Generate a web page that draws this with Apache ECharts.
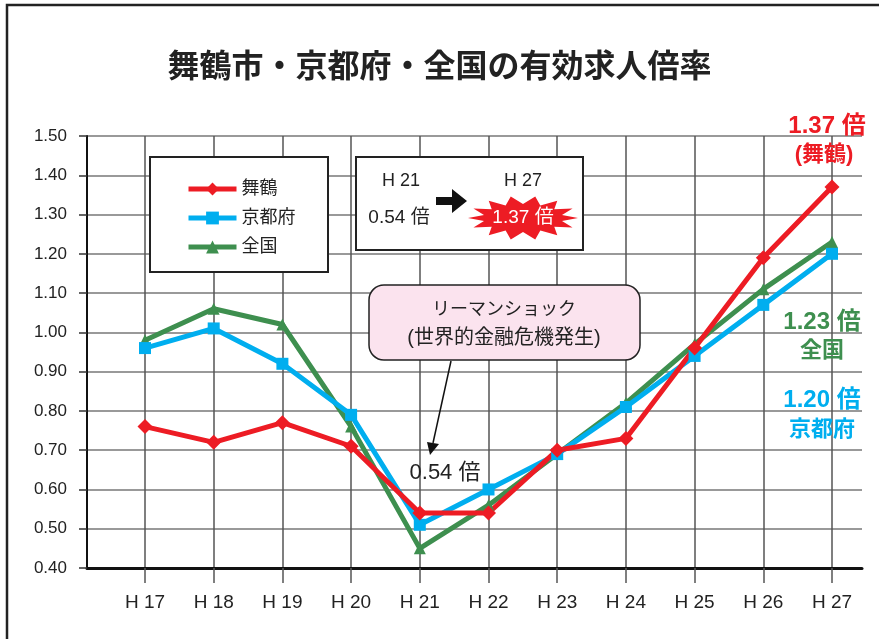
<!DOCTYPE html>
<html>
<head>
<meta charset="utf-8">
<script src="https://cdn.jsdelivr.net/npm/echarts@6/dist/echarts.min.js"></script>
<style>
  html, body { margin: 0; padding: 0; background: #fff; }
  #chart { width: 879px; height: 639px; }
</style>
</head>
<body>
<div id="chart"></div>
<script>
// 年度 (H17 - H27)
const years = ['H 17', 'H 18', 'H 19', 'H 20', 'H 21', 'H 22', 'H 23', 'H 24', 'H 25', 'H 26', 'H 27'];
const maizuru = [0.76, 0.72, 0.77, 0.71, 0.54, 0.54, 0.70, 0.73, 0.96, 1.19, 1.37];
const kyoto = [0.96, 1.01, 0.92, 0.79, 0.51, 0.60, 0.69, 0.81, 0.94, 1.07, 1.20];
const zenkoku = [0.98, 1.06, 1.02, 0.76, 0.45, 0.56, 0.69, 0.82, 0.97, 1.11, 1.23];
const yMin = 0.4, yMax = 1.5, yStep = 0.1;

const RED = '#ed1c24', BLUE = '#00aeef', GREEN = '#3e8f4f';
const FONT = '"Liberation Sans", "Noto Sans CJK JP", sans-serif';

function starPoints(cx, cy, rx1, ry1, rx2, ry2, n) {
  // 星形(ギザギザ)の頂点
  const pts = [];
  for (let i = 0; i < n * 2; i++) {
    const a = Math.PI * i / n;
    const outer = i % 2 === 0;
    pts.push([cx + Math.cos(a) * (outer ? rx1 : rx2), cy + Math.sin(a) * (outer ? ry1 : ry2)]);
  }
  return pts;
}

function txt(text, x, y, size, color, extra) {
  return {
    type: 'text', z: 20,
    style: Object.assign({
      text: text, x: x, y: y, fill: color || '#222',
      fontSize: size, fontFamily: FONT,
      textAlign: 'center', textVerticalAlign: 'middle'
    }, extra || {})
  };
}

function lineSeries(name, data, color, symbol, size) {
  return {
    name: name, type: 'line', xAxisIndex: 1, yAxisIndex: 1,
    data: data, symbol: symbol, symbolSize: size,
    color: color,
    lineStyle: { width: 5, color: color, join: 'round' },
    itemStyle: { color: color },
    emphasis: { disabled: true }
  };
}

const chart = echarts.init(document.getElementById('chart'));
chart.setOption({
  animation: false,
  title: {
    text: '舞鶴市・京都府・全国の有効求人倍率',
    left: 'center', top: 47,
    textStyle: { fontSize: 32, fontWeight: 'bold', color: '#222', fontFamily: FONT }
  },
  legend: {
    data: ['舞鶴', '京都府', '全国'],
    orient: 'vertical',
    left: 181, top: 175,
    itemWidth: 48, itemHeight: 16, itemGap: 11,
    lineStyle: { width: 5 },
    textStyle: { fontSize: 18, lineHeight: 18, color: '#222', fontFamily: FONT },
    z: 10
  },
  grid: [
    { left: 87, right: 17, top: 136, bottom: 71 },
    { left: 145, right: 47, top: 136, bottom: 71 }
  ],
  xAxis: [
    {
      gridIndex: 0, type: 'value', min: 0, max: 1,
      axisLabel: { show: false }, axisTick: { show: false }, splitLine: { show: false },
      axisLine: { show: true, lineStyle: { color: '#111', width: 3 } }
    },
    {
      gridIndex: 1, type: 'category', data: years, boundaryGap: false,
      axisLine: { show: false },
      axisTick: { show: true, length: 15, lineStyle: { color: '#555', width: 1.5 } },
      axisLabel: { margin: 25, fontSize: 19, color: '#222', fontFamily: FONT },
      splitLine: { show: true, lineStyle: { color: '#555', width: 1.5 } }
    }
  ],
  yAxis: [
    {
      gridIndex: 0, type: 'value', min: yMin, max: yMax, interval: yStep,
      axisLine: { show: true, lineStyle: { color: '#111', width: 2 } },
      axisTick: { show: true, length: 8, lineStyle: { color: '#333', width: 1.5 } },
      axisLabel: { margin: 20, fontSize: 17, color: '#222', fontFamily: FONT,
        formatter: v => v.toFixed(2) },
      splitLine: { show: true, lineStyle: { color: '#777', width: 1.5 } }
    },
    {
      gridIndex: 1, type: 'value', min: yMin, max: yMax, interval: yStep,
      show: false
    }
  ],
  series: [
    lineSeries('全国', zenkoku, GREEN, 'triangle', 12),
    lineSeries('京都府', kyoto, BLUE, 'rect', 12),
    lineSeries('舞鶴', maizuru, RED, 'diamond', 15)
  ],
  graphic: [
    // 外枠
    { type: 'rect', z: 1, shape: { x: 7, y: 5, width: 900, height: 700 },
      style: { fill: null, stroke: '#222', lineWidth: 2.5 } },
    // 凡例の枠
    { type: 'rect', z: 5, shape: { x: 150, y: 157, width: 178, height: 115 },
      style: { fill: '#fff', stroke: '#222', lineWidth: 2 } },
    // H21 → H27 の枠
    { type: 'rect', z: 5, shape: { x: 356, y: 157, width: 227, height: 93 },
      style: { fill: '#fff', stroke: '#222', lineWidth: 2 } },
    txt('H 21', 401, 181, 18),
    txt('H 27', 523, 181, 18),
    txt('0.54 倍', 399, 218, 19),
    { type: 'polygon', z: 20,
      shape: { points: [[436, 197], [452, 197], [452, 189], [467, 201], [452, 213], [452, 205], [436, 205]] },
      style: { fill: '#111' } },
    { type: 'polygon', z: 19,
      shape: { points: starPoints(523, 218, 55, 22, 40, 14, 14) },
      style: { fill: RED } },
    txt('1.37 倍', 523, 218, 19, '#fff'),
    // リーマンショック
    { type: 'rect', z: 15, shape: { x: 369, y: 285, width: 271, height: 75, r: 15 },
      style: { fill: '#fbe3ee', stroke: '#222', lineWidth: 1.5 } },
    txt('リーマンショック', 504, 310, 18, '#222', { textLetterSpacing: 4 }),
    txt('(世界的金融危機発生)', 504, 338, 20, '#222'),
    { type: 'line', z: 15, shape: { x1: 451, y1: 361, x2: 433, y2: 443 },
      style: { stroke: '#111', lineWidth: 1.5 } },
    { type: 'polygon', z: 15,
      shape: { points: [[430, 455], [439, 444], [427, 442]] },
      style: { fill: '#111' } },
    txt('0.54 倍', 445, 473, 22, '#222'),
    // 右側のラベル
    txt('1.37 倍', 827, 126, 24, RED, { fontWeight: 'bold' }),
    txt('(舞鶴)', 824, 155, 22, RED, { fontWeight: 'bold' }),
    txt('1.23 倍', 822, 322, 24, GREEN, { fontWeight: 'bold' }),
    txt('全国', 822, 351, 22, GREEN, { fontWeight: 'bold' }),
    txt('1.20 倍', 822, 400, 24, BLUE, { fontWeight: 'bold' }),
    txt('京都府', 822, 430, 22, BLUE, { fontWeight: 'bold' })
  ]
});
</script>
</body>
</html>
